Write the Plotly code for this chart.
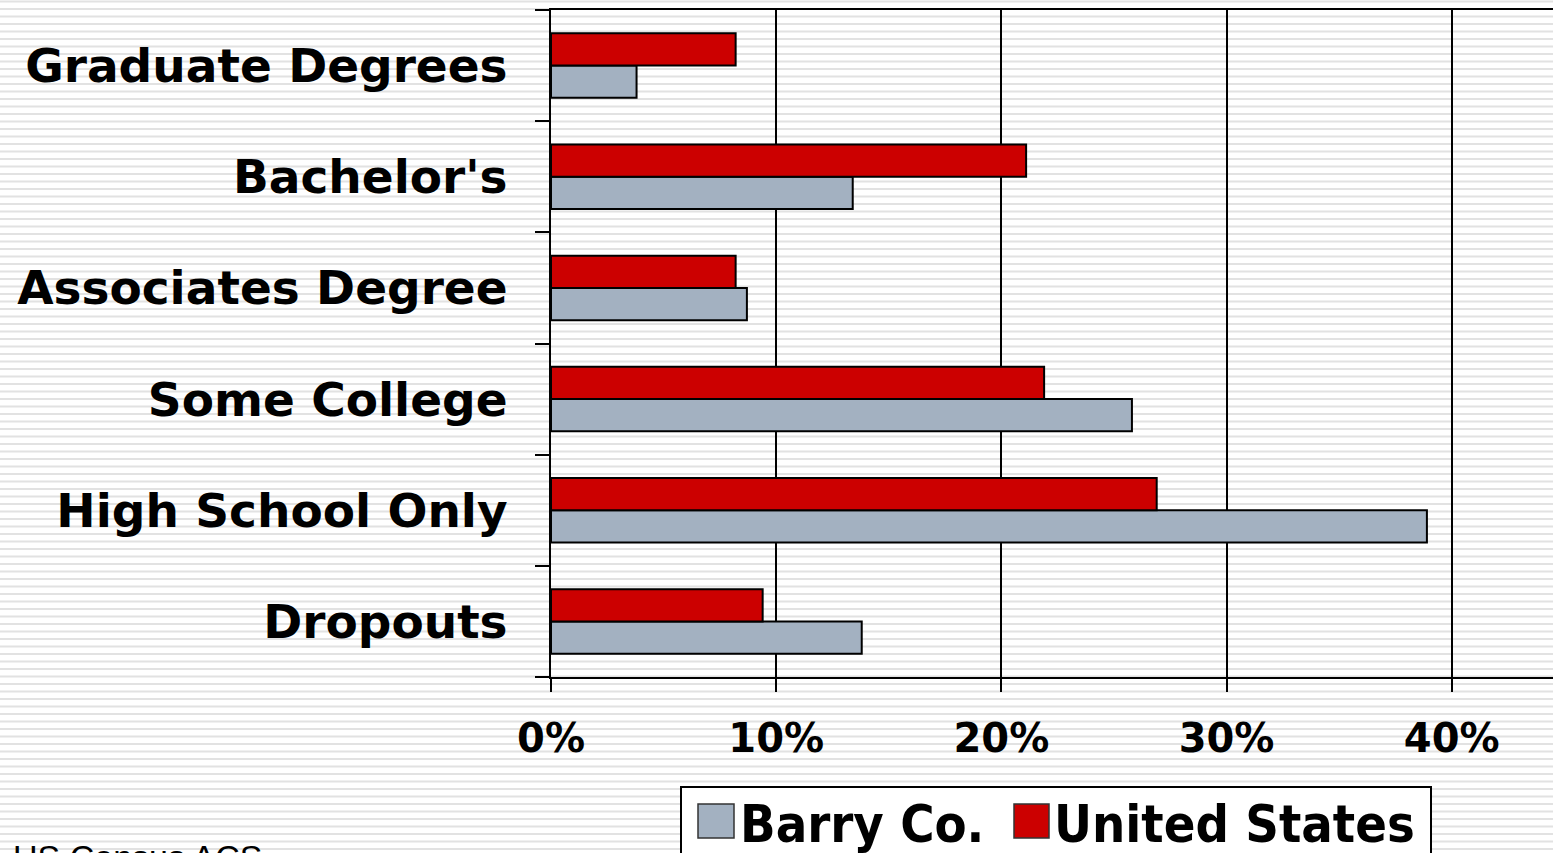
import plotly.graph_objects as go

# data (bottom to top, as plotted)
categories = ["Dropouts", "High School Only", "Some College",
              "Associates Degree", "Bachelor's", "Graduate Degrees"]
barry_co = [0.138, 0.389, 0.258, 0.087, 0.134, 0.038]
united_states = [0.094, 0.269, 0.219, 0.082, 0.211, 0.082]
series_names = ["Barry Co.", "United States"]
x_ticks = [0, 0.1, 0.2, 0.3, 0.4]
source_note = "US Census ACS"

GREY = "#a3b1c1"
RED = "#cc0000"

W, H = 1553, 853
L, R, T, B = 551, 0, 10, 176
PW, PH = W - L - R, H - T - B


def px_x(x):
    return (x - L) / PW


def px_y(y):
    return (H - B - y) / PH


fig = go.Figure()
fig.add_trace(go.Bar(y=categories, x=barry_co, orientation="h", name=series_names[0],
                     marker=dict(color=GREY, line=dict(color="black", width=2)),
                     showlegend=False))
fig.add_trace(go.Bar(y=categories, x=united_states, orientation="h", name=series_names[1],
                     marker=dict(color=RED, line=dict(color="black", width=2)),
                     showlegend=False))

# lined-paper background
shapes = []
y = 1.5
while y < H:
    shapes.append(dict(type="line", xref="paper", yref="paper", layer="below",
                       x0=px_x(0), x1=px_x(W), y0=px_y(y), y1=px_y(y),
                       line=dict(color="#e2e2e2", width=2)))
    y += 7.5

# hand-made legend box
shapes.append(dict(type="rect", xref="paper", yref="paper",
                   x0=px_x(681), x1=px_x(1431), y0=px_y(787), y1=px_y(880),
                   fillcolor="white", line=dict(color="black", width=2)))
shapes.append(dict(type="rect", xref="paper", yref="paper",
                   x0=px_x(698), x1=px_x(734), y0=px_y(804), y1=px_y(838),
                   fillcolor=GREY, line=dict(color="#333333", width=1.5)))
shapes.append(dict(type="rect", xref="paper", yref="paper",
                   x0=px_x(1014), x1=px_x(1049), y0=px_y(804), y1=px_y(838),
                   fillcolor=RED, line=dict(color="#333333", width=1.5)))

legend_font = dict(family="Liberation Sans Narrow, DejaVu Sans Condensed, Arial",
                   size=52, color="black")
annotations = [
    dict(text="<b>%s</b>" % series_names[0], xref="paper", yref="paper",
         x=px_x(738), y=px_y(824), xanchor="left", yanchor="middle",
         showarrow=False, font=legend_font),
    dict(text="<b>%s</b>" % series_names[1], xref="paper", yref="paper",
         x=px_x(1052), y=px_y(824), xanchor="left", yanchor="middle",
         showarrow=False, font=legend_font),
    dict(text=source_note, xref="paper", yref="paper",
         x=px_x(11), y=px_y(836), xanchor="left", yanchor="top",
         showarrow=False, font=dict(family="Liberation Sans, Arial", size=34, color="black")),
]

fig.update_layout(
    width=W, height=H,
    margin=dict(l=L, r=R, t=T, b=B, pad=0),
    paper_bgcolor="white",
    plot_bgcolor="rgba(0,0,0,0)",
    barmode="group", bargap=0.42, bargroupgap=0,
    showlegend=False,
    shapes=shapes,
    annotations=annotations,
    xaxis=dict(range=[0, 0.445], tickvals=x_ticks, tickformat=".0%",
               showgrid=True, gridcolor="black", gridwidth=2, zeroline=False,
               showline=True, linecolor="black", linewidth=2, mirror=True,
               ticks="outside", ticklen=13, tickwidth=2, tickcolor="black",
               ticklabelstandoff=12,
               tickfont=dict(family="DejaVu Sans", size=40, color="black", weight="bold")),
    yaxis=dict(categoryorder="array", categoryarray=categories,
               showline=True, linecolor="black", linewidth=2,
               showgrid=False, zeroline=False,
               ticks="outside", ticklen=14, tickwidth=2, tickcolor="black",
               tickson="boundaries", ticklabelstandoff=32,
               tickfont=dict(family="DejaVu Sans", size=47, color="black", weight="bold")),
)

# drop the page's default body margin so the figure sits at the top-left corner
fig.write_html("out.html", config={"displayModeBar": False},
               post_script="document.body.style.margin='0px';")
